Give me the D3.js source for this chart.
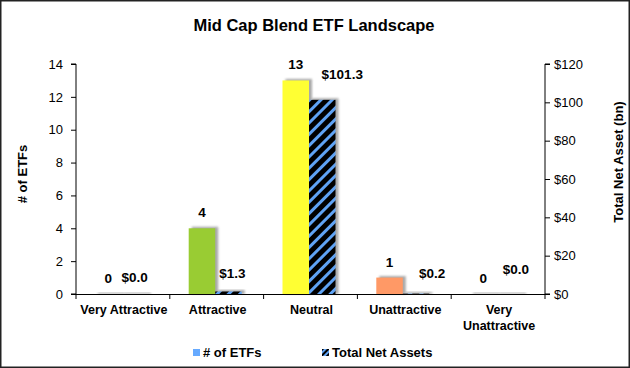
<!DOCTYPE html>
<html><head><meta charset="utf-8">
<script src="https://cdn.jsdelivr.net/npm/d3@7"></script>
<style>body{margin:0;background:#fff}svg{display:block;font-family:"Liberation Sans",Arial,sans-serif}</style>
</head><body><svg id="c" width="630" height="368"></svg>
<script>
// ---- data ----
const categories = ["Very Attractive","Attractive","Neutral","Unattractive","Very Unattractive"];
const etfCounts = [0,4,13,1,0];
const netAssets = [0.0,1.3,101.3,0.2,0.0];
const leftTicks = [0,2,4,6,8,10,12,14];
const rightTicks = [0,20,40,60,80,100,120];
const seriesNames = ["# of ETFs","Total Net Assets"];
const chartTitle = "Mid Cap Blend ETF Landscape";

// ---- layout / style ----
const countColors = ["#A6A6A6","#99CC33","#FFFF33","#FF9966","#FF5050"];
const stripeBlue = "#5FA3F5";
const assetNudge = [[0,0],[4,1.5],[20,9],[16,3.5],[6,8]]; // manual label placement as in original
const L = 76, R = 545, T = 64, B = 294, barW = 26.5;

const svg = d3.select("#c");
const defs = svg.append("defs");
const pat = defs.append("pattern").attr("id","hatch").attr("patternUnits","userSpaceOnUse")
  .attr("width",8).attr("height",8).attr("patternTransform","rotate(45)");
pat.append("rect").attr("width",8).attr("height",8).attr("fill","#000");
pat.append("rect").attr("x",0).attr("width",3).attr("height",8).attr("fill",stripeBlue);
const pat2 = defs.append("pattern").attr("id","hatch2").attr("patternUnits","userSpaceOnUse")
  .attr("width",4).attr("height",4).attr("patternTransform","rotate(45)");
pat2.append("rect").attr("width",4).attr("height",4).attr("fill","#000");
pat2.append("rect").attr("width",2).attr("height",4).attr("fill",stripeBlue);
defs.append("filter").attr("id","blur").attr("x","-20%").attr("y","-20%").attr("width","140%").attr("height","140%")
  .append("feGaussianBlur").attr("stdDeviation",1.1);

svg.append("rect").attr("x",0.75).attr("y",0.75).attr("width",628.5).attr("height",366.5)
  .attr("fill","#fff").attr("stroke","#222").attr("stroke-width",1.5);

svg.append("text").attr("x",314).attr("y",31).attr("text-anchor","middle")
  .attr("font-size",16.5).attr("font-weight","bold").text(chartTitle);

const x = d3.scaleBand().domain(categories).range([L,R]).padding(0);
const yL = d3.scaleLinear().domain([0,14]).range([B,T]);
const yR = d3.scaleLinear().domain([0,120]).range([B,T]);

const g = svg.append("g");
// shadows
categories.forEach((c,i)=>{
  const cx = x(c)+x.bandwidth()/2;
  const bars = [[cx-28, yL(etfCounts[i])],[cx-1.5, yR(netAssets[i])]];
  bars.forEach(([bx,by])=>{
    g.append("rect").attr("x",bx+3).attr("y",by-1.5).attr("width",barW).attr("height",B-by+1.5)
      .attr("fill","#8c8c8c").attr("opacity",0.75).attr("filter","url(#blur)");
  });
});
categories.forEach((c,i)=>{
  const cx = x(c)+x.bandwidth()/2;
  g.append("rect").attr("x",cx-28).attr("y",yL(etfCounts[i])).attr("width",barW)
    .attr("height",B-yL(etfCounts[i])).attr("fill",countColors[i]);
  g.append("rect").attr("x",cx-1.5).attr("y",yR(netAssets[i])).attr("width",barW)
    .attr("height",B-yR(netAssets[i])).attr("fill","url(#hatch)");
  g.append("text").attr("x",cx-28+barW/2).attr("y",yL(etfCounts[i])-11).attr("text-anchor","middle")
    .attr("font-size",13.5).attr("font-weight","bold").text(etfCounts[i]);
  g.append("text").attr("x",cx-1.5+barW/2+assetNudge[i][0]).attr("y",yR(netAssets[i])-12-assetNudge[i][1])
    .attr("text-anchor","middle").attr("font-size",13.5).attr("font-weight","bold")
    .text("$"+d3.format(".1f")(netAssets[i]));
});

// axes
const axL = svg.append("g").attr("transform",`translate(${L},0)`)
  .call(d3.axisLeft(yL).tickValues(leftTicks).tickSize(5).tickPadding(8));
const axR = svg.append("g").attr("transform",`translate(${R},0)`)
  .call(d3.axisRight(yR).tickValues(rightTicks).tickSize(5).tickPadding(4).tickFormat(d=>"$"+d));
[axL,axR].forEach(a=>{
  a.select(".domain").attr("d",a===axL?`M-5,${T}H0V${B}H-5`:`M5,${T}H0V${B}H5`).attr("stroke","#000");
  a.selectAll("text").attr("font-size",13).attr("fill","#000").attr("font-family","Liberation Sans, Arial, sans-serif");
  a.selectAll("line").attr("stroke","#000");
});
const axB = svg.append("g").attr("transform",`translate(0,${B})`)
  .call(d3.axisBottom(x).tickSize(0).tickPadding(0).tickFormat(""));
axB.select(".domain").attr("d",`M${L},0.5H${R}`).attr("stroke","#000");
const bounds = categories.map(c=>x(c)).concat([R]);
axB.selectAll(".bt").data(bounds).enter().append("line").attr("class","bt")
  .attr("x1",d=>d).attr("x2",d=>d).attr("y1",0).attr("y2",5).attr("stroke","#000");
categories.forEach(c=>{
  const cx = x(c)+x.bandwidth()/2;
  const words = c==="Very Unattractive" ? ["Very","Unattractive"] : [c];
  words.forEach((w,k)=>{
    svg.append("text").attr("x",cx+1).attr("y",B+20+k*16).attr("text-anchor","middle")
      .attr("font-size",12.5).attr("font-weight","bold").text(w);
  });
});

// axis titles
svg.append("text").attr("transform","translate(27,174) rotate(-90)").attr("text-anchor","middle")
  .attr("font-size",13).attr("font-weight","bold").text("# of ETFs");
svg.append("text").attr("transform","translate(623,162) rotate(-90)").attr("text-anchor","middle")
  .attr("font-size",13).attr("font-weight","bold").text("Total Net Asset (bn)");

// legend
svg.append("rect").attr("x",193).attr("y",349).attr("width",7).attr("height",7).attr("fill","#66AAFF");
svg.append("text").attr("x",203).attr("y",357).attr("font-size",13).attr("font-weight","bold").text(seriesNames[0]);
svg.append("rect").attr("x",322).attr("y",349).attr("width",7).attr("height",7).attr("fill","url(#hatch2)");
svg.append("text").attr("x",332).attr("y",357).attr("font-size",13).attr("font-weight","bold").text(seriesNames[1]);
</script></body></html>
